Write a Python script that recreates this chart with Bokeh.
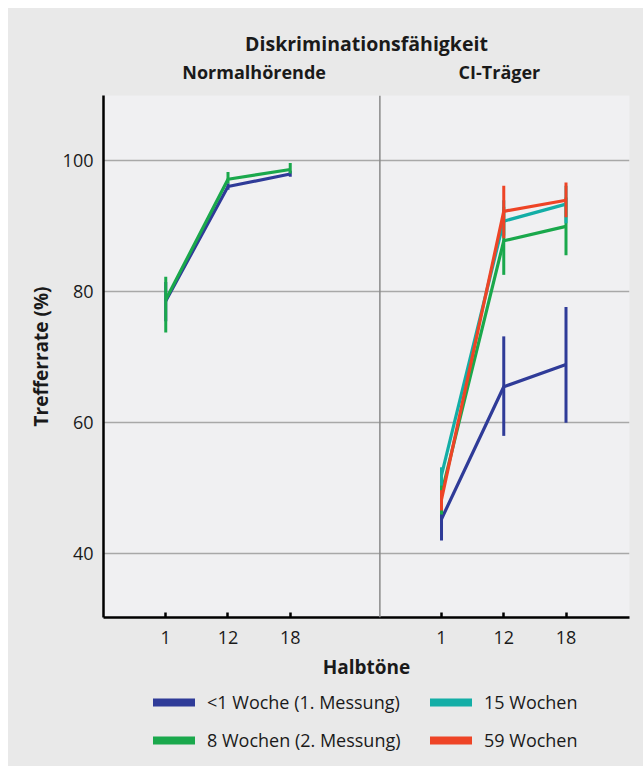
from bokeh.plotting import figure
from bokeh.layouts import column
from bokeh.models import (FixedTicker, Span, Legend, LegendItem, Range1d, LinearAxis)
from bokeh.embed import file_html
from bokeh.resources import INLINE

# ---------------- data ----------------
halbtoene = ["1", "12", "18"]
gruppen = ["Normalhörende", "CI-Träger"]
serien = ["<1 Woche (1. Messung)", "8 Wochen (2. Messung)", "15 Wochen", "59 Wochen"]
farben = ["#2f3b98", "#1aa84c", "#13aea6", "#ee4426"]

# Normalhörende (only two measurements)
nh_blue_mean = [78.6, 96.1, 98.0]
nh_blue_low = [75.5, 95.6, 97.6]
nh_blue_high = [81.5, 96.6, 98.5]
nh_green_mean = [78.8, 97.2, 98.7]
nh_green_low = [73.8, 96.6, 98.1]
nh_green_high = [82.3, 98.3, 99.7]

# CI-Träger
ci_blue_mean = [45.3, 65.5, 68.9]
ci_blue_low = [42.0, 58.0, 60.0]
ci_blue_high = [48.0, 73.2, 77.7]
ci_green_mean = [49.2, 87.8, 90.0]
ci_green_low = [46.0, 82.6, 85.6]
ci_green_high = [51.0, 93.0, 94.4]
ci_teal_mean = [52.0, 90.8, 93.4]
ci_teal_low = [50.4, 88.6, 90.5]
ci_teal_high = [53.2, 94.0, 96.2]
ci_red_mean = [48.3, 92.3, 94.0]
ci_red_low = [46.6, 88.2, 91.4]
ci_red_high = [49.7, 96.2, 96.7]

y_ticks = [40, 60, 80, 100]

# ---------------- layout helpers ----------------
FONT = "Open Sans"
TXT = "#1a1a1a"
BG_OUT = "#e9e9e9"
BG_IN = "#f0f0f2"
offsets = {"Normalhörende": 0.0, "CI-Träger": 4.43}
group_label_x = {"Normalhörende": 1.42, "CI-Träger": 5.36}
divider_x = 3.44

def xs(gruppe):
    return [offsets[gruppe] + i for i in range(len(halbtoene))]

W = 635
H_MAIN, H_LEG = 676, 82
BL, BR, BT = 95, 14, 87
BB = H_MAIN - BT - 522

p = figure(width=W, height=H_MAIN, output_backend="svg", toolbar_location=None,
           x_range=Range1d(-1.0, 7.45), y_range=Range1d(30.25, 110.0),
           min_border_left=BL, min_border_right=BR, min_border_top=BT, min_border_bottom=BB)

p.border_fill_color = BG_OUT
p.background_fill_color = BG_IN
p.outline_line_color = None

# grid
p.xgrid.visible = False
p.ygrid.ticker = FixedTicker(ticks=y_ticks)
p.ygrid.grid_line_color = "#a8a8a8"
p.ygrid.grid_line_width = 1.5

# y axis
p.yaxis.ticker = FixedTicker(ticks=y_ticks)
p.yaxis.axis_line_color = "black"
p.yaxis.axis_line_width = 2.5
p.yaxis.major_tick_in = 0
p.yaxis.major_tick_out = 0
p.yaxis.minor_tick_line_color = None
p.yaxis.major_label_standoff = 10
p.yaxis.major_label_text_font = FONT
p.yaxis.major_label_text_font_size = "18px"
p.yaxis.major_label_text_color = TXT
p.yaxis.axis_label = "Trefferrate (%)"
p.yaxis.axis_label_text_font = FONT
p.yaxis.axis_label_text_font_size = "19px"
p.yaxis.axis_label_text_font_style = "bold"
p.yaxis.axis_label_text_color = TXT
p.yaxis.axis_label_standoff = 6

# x axis
tick_pos = xs("Normalhörende") + xs("CI-Träger")
overrides = {t: lab for t, lab in zip(tick_pos, halbtoene * 2)}
p.xaxis.ticker = FixedTicker(ticks=tick_pos)
p.xaxis.major_label_overrides = overrides
p.xaxis.axis_line_color = "black"
p.xaxis.axis_line_width = 2.5
p.xaxis.major_tick_in = 5
p.xaxis.major_tick_out = 0
p.xaxis.major_tick_line_width = 2.5
p.xaxis.minor_tick_line_color = None
p.xaxis.major_label_standoff = 13
p.xaxis.major_label_text_font = FONT
p.xaxis.major_label_text_font_size = "18px"
p.xaxis.major_label_text_color = TXT
p.xaxis.axis_label = "Halbtöne"
p.xaxis.axis_label_text_font = FONT
p.xaxis.axis_label_text_font_size = "19px"
p.xaxis.axis_label_text_font_style = "bold"
p.xaxis.axis_label_text_color = TXT
p.xaxis.axis_label_standoff = 7

# group headings and main title as an axis above the frame
top_axis = LinearAxis(ticker=FixedTicker(ticks=[group_label_x[g] for g in gruppen]),
                      major_label_overrides={group_label_x[g]: g for g in gruppen},
                      axis_label="Diskriminationsfähigkeit")
top_axis.axis_line_color = None
top_axis.major_tick_line_color = None
top_axis.minor_tick_line_color = None
top_axis.major_label_standoff = 6
top_axis.major_label_text_font = FONT
top_axis.major_label_text_font_size = "18px"
top_axis.major_label_text_font_style = "bold"
top_axis.major_label_text_color = TXT
top_axis.axis_label_text_font = FONT
top_axis.axis_label_text_font_size = "19.5px"
top_axis.axis_label_text_font_style = "bold"
top_axis.axis_label_text_color = TXT
top_axis.axis_label_standoff = 0
p.add_layout(top_axis, "above")

# divider between the two groups
p.add_layout(Span(location=divider_x, dimension="height", line_color="#8a8a8a", line_width=1.5))

# series
def draw(gruppe, mean, low, high, color):
    x = xs(gruppe)
    p.segment(x0=x, y0=low, x1=x, y1=high, line_color=color, line_width=3)
    p.line(x, mean, line_color=color, line_width=3.2, line_join="round")

draw("Normalhörende", nh_blue_mean, nh_blue_low, nh_blue_high, farben[0])
draw("Normalhörende", nh_green_mean, nh_green_low, nh_green_high, farben[1])
draw("CI-Träger", ci_blue_mean, ci_blue_low, ci_blue_high, farben[0])
draw("CI-Träger", ci_green_mean, ci_green_low, ci_green_high, farben[1])
draw("CI-Träger", ci_teal_mean, ci_teal_low, ci_teal_high, farben[2])
draw("CI-Träger", ci_red_mean, ci_red_low, ci_red_high, farben[3])

# ---------------- legend strip ----------------
q = figure(width=W, height=H_LEG, output_backend="svg", toolbar_location=None,
           x_range=Range1d(0, 1), y_range=Range1d(0, 1),
           min_border_left=BL, min_border_right=BR, min_border_top=0, min_border_bottom=0)
q.axis.visible = False
q.grid.visible = False
q.border_fill_color = None
q.background_fill_color = None
q.outline_line_color = None
q.styles = {"background-color": BG_OUT}

nan = float("nan")
items = []
for name, col in zip(serien, farben):
    r = q.line(x=[nan, nan], y=[nan, nan], line_color=col, line_width=8, line_cap="round")
    items.append(LegendItem(label=name, renderers=[r]))

legend = Legend(items=items, orientation="vertical", nrows=2, location=(50, 14),
                glyph_width=42, glyph_height=20, label_standoff=12, spacing=14,
                label_width=209, padding=6, margin=0,
                border_line_color=None, background_fill_alpha=0,
                label_text_font=FONT, label_text_font_size="18px", label_text_color=TXT)
q.add_layout(legend, "center")

layout = column(p, q, spacing=0)
layout.margin = (8, 0, 0, 8)
layout.styles = {"background-color": BG_OUT}

open("out.html", "w").write(file_html(layout, INLINE))
